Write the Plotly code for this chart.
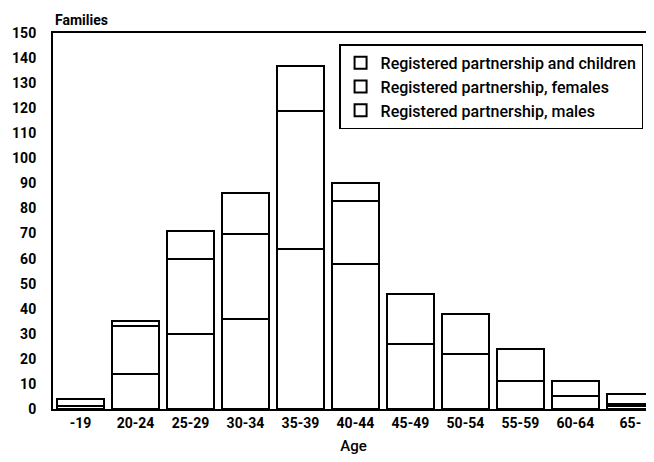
import plotly.graph_objects as go

ages = ["-19", "20-24", "25-29", "30-34", "35-39", "40-44", "45-49", "50-54", "55-59", "60-64", "65-"]
males = [0, 14, 30, 36, 64, 58, 26, 22, 11, 5, 1]
females = [1, 19, 30, 34, 55, 25, 20, 16, 13, 6, 1]
children = [3, 2, 11, 16, 18, 7, 0, 0, 0, 0, 4]

names = ["Registered partnership, males", "Registered partnership, females", "Registered partnership and children"]
font = "Roboto, sans-serif"

fig = go.Figure()
for name, vals in zip(names, [males, females, children]):
    fig.add_trace(go.Bar(x=ages, y=vals, name=name,
                         marker=dict(color="white", line=dict(color="black", width=2))))

# page body has an 8px margin, so the figure is shifted accordingly
fig.update_layout(
    barmode="stack",
    bargap=0.15,
    width=646, height=454,
    margin=dict(l=45, r=0, t=25, b=53),
    plot_bgcolor="white", paper_bgcolor="white",
    font=dict(family=font, size=13, color="black", weight=500),
    legend=dict(x=0.476, y=0.97, xanchor="left", yanchor="top",
                traceorder="reversed", bgcolor="white",
                bordercolor="black", borderwidth=1.5,
                font=dict(size=16), itemwidth=30, tracegroupgap=0),
    xaxis=dict(range=[-0.5, 10.43], showline=True, linecolor="black", linewidth=2,
               mirror=True, ticks="", showgrid=False,
               title=dict(text="Age", font=dict(size=15), standoff=11)),
    yaxis=dict(range=[0, 150], dtick=10, showline=True, linecolor="black", linewidth=2,
               ticks="", showgrid=False, zeroline=False, ticklabelstandoff=12),
    annotations=[dict(text="Families", x=0, y=1, xref="paper", yref="paper",
                      xanchor="left", yanchor="bottom", showarrow=False, yshift=3,
                      font=dict(size=14, weight=700))],
)
fig.update_xaxes(tickfont=dict(size=14, weight=700))
fig.update_yaxes(tickfont=dict(size=14, weight=700))

fig.write_html("out.html")
